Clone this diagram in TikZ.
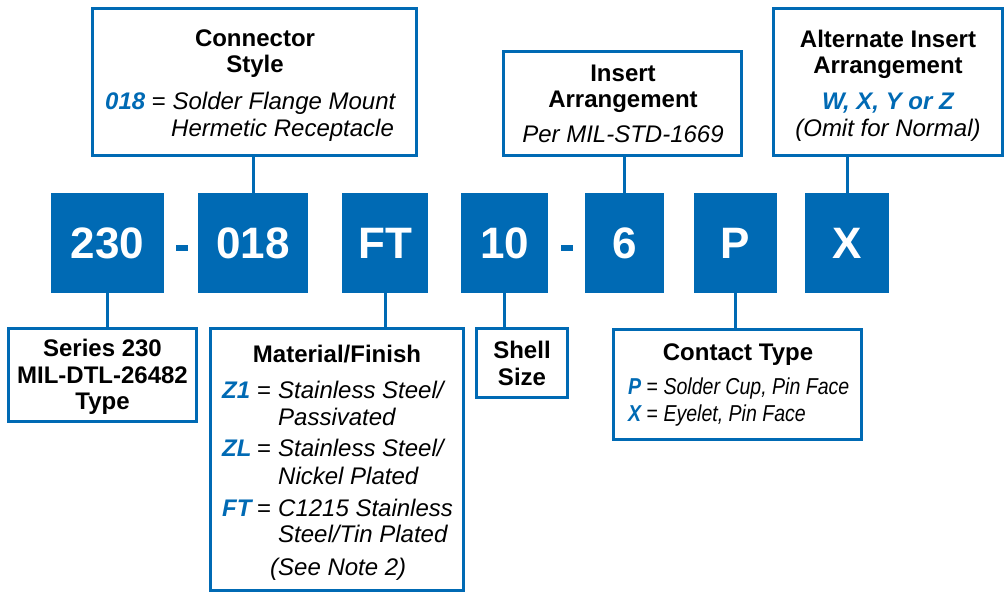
\documentclass[tikz,border=0pt]{standalone}
\usepackage{fontspec}
\setmainfont{Liberation Sans}
\newfontfamily\narrowfont[FakeStretch=0.85]{Liberation Sans}
\definecolor{bl}{HTML}{006AB4}
\begin{document}
\begin{tikzpicture}[x=1pt,y=-1pt,
  frame/.style={draw=bl, line width=3pt, fill=white, inner sep=0, outer sep=0},
  code/.style={fill=bl, text=white, inner sep=0, outer sep=0, minimum height=100pt,
    font=\fontsize{44}{44}\selectfont\bfseries},
  dashbar/.style={fill=bl, inner sep=0, minimum width=12pt, minimum height=6pt},
  link/.style={draw=bl, line width=3pt},
  ttl/.style={inner sep=0, anchor=base, font=\fontsize{24}{26}\selectfont\bfseries},
  itx/.style={inner sep=0, anchor=base west, font=\fontsize{24}{27}\selectfont\itshape},
  itc/.style={inner sep=0, anchor=base, font=\fontsize{24}{27}\selectfont\itshape},
  nar/.style={inner sep=0, anchor=base west, font=\narrowfont\fontsize{23}{27}\selectfont\itshape},
  key/.style={text=bl, font=\fontsize{24}{27}\selectfont\bfseries\itshape},
]
\useasboundingbox (0,0) rectangle (1005,593);

% code boxes
\node[code, minimum width=113pt] (c230) at (107.5,243) {230};
\node[code, minimum width=110pt] (c018) at (253,243) {018};
\node[code, minimum width=86pt]  (cFT)  at (385,243) {FT};
\node[code, minimum width=87pt]  (c10)  at (504.5,243) {10};
\node[code, minimum width=79pt]  (c6)   at (624.5,243) {6};
\node[code, minimum width=83pt]  (cP)   at (735.5,243) {P};
\node[code, minimum width=84pt]  (cX)   at (847,243) {X};
\node[dashbar] (d1) at (182,248) {};
\node[dashbar] (d2) at (567,248) {};

% frames
\node[frame, minimum width=324pt, minimum height=147pt] (cs) at (254.5,82) {};
\node[frame, minimum width=238pt, minimum height=104pt] (ia) at (622.5,103.5) {};
\node[frame, minimum width=229pt, minimum height=147pt] (aa) at (888,82) {};
\node[frame, minimum width=188pt, minimum height=93pt]  (se) at (102.5,375) {};
\node[frame, minimum width=253pt, minimum height=262pt] (mf) at (337,459.5) {};
\node[frame, minimum width=91pt,  minimum height=69pt]  (ss) at (522,363) {};
\node[frame, minimum width=248pt, minimum height=110pt] (ct) at (737.5,384.5) {};

% connectors
\draw[link] (c018.north) -- (c018.north |- cs.south);
\draw[link] (c6.north) -- (c6.north |- ia.south);
\draw[link] (cX.north) -- (cX.north |- aa.south);
\draw[link] (c230.south) -- (c230.south |- se.north);
\draw[link] (cFT.south) -- (cFT.south |- mf.north);
\draw[link] (c10.south) -- (c10.south |- ss.north);
\draw[link] (cP.south) -- (cP.south |- ct.north);

% Connector Style texts
\node[ttl] (cs1) at (255,47) {Connector};
\node[ttl] (cs2) at (255,73) {Style};
\node[itx] (cs3) at (105,110) {{\bfseries\color{bl}018} \upshape=\itshape\ Solder Flange Mount};
\node[itx] (cs4) at (171,137) {Hermetic Receptacle};

% Insert Arrangement
\node[ttl] (ia1) at (623,82) {Insert};
\node[ttl] (ia2) at (623,108) {Arrangement};
\node[itc] (ia3) at (623,143) {Per MIL-STD-1669};

% Alternate Insert Arrangement
\node[ttl] (aa1) at (888,48) {Alternate Insert};
\node[ttl] (aa2) at (888,74) {Arrangement};
\node[itc, key] (aa3) at (888,110) {W, X, Y or Z};
\node[itc] (aa4) at (888,137) {(Omit for Normal)};

% Series
\node[ttl] (se1) at (102.5,357) {Series 230};
\node[ttl] (se2) at (102.5,384) {MIL-DTL-26482};
\node[ttl] (se3) at (102.5,410) {Type};

% Material/Finish
\node[ttl] (mf0) at (337,363) {Material/Finish};
\node[itx, key] (mfa) at (222,399) {Z1};
\node[itx] (mfae) at (257,399) {\upshape=};
\node[itx] (mfb) at (278,399) {Stainless Steel/};
\node[itx] (mfc) at (278,426) {Passivated};
\node[itx, key] (mfd) at (222,457) {ZL};
\node[itx] (mfde) at (257,457) {\upshape=};
\node[itx] (mfe) at (278,457) {Stainless Steel/};
\node[itx] (mff) at (278,485) {Nickel Plated};
\node[itx, key] (mfg) at (222,517) {FT};
\node[itx] (mfge) at (257,517) {\upshape=};
\node[itx] (mfh) at (278,517) {C1215 Stainless};
\node[itx] (mfi) at (278,543) {Steel/Tin Plated};
\node[itx] (mfj) at (270,576) {(See Note 2)};

% Shell Size
\node[ttl] (ss1) at (522,359) {Shell};
\node[ttl] (ss2) at (522,386) {Size};

% Contact Type
\node[ttl] (ct1) at (738,361) {Contact Type};
\node[nar] (ct2) at (628,395) {{\bfseries\color{bl}P} \upshape=\itshape\ Solder Cup, Pin Face};
\node[nar] (ct3) at (628,422) {{\bfseries\color{bl}X} \upshape=\itshape\ Eyelet, Pin Face};
\end{tikzpicture}
\end{document}
